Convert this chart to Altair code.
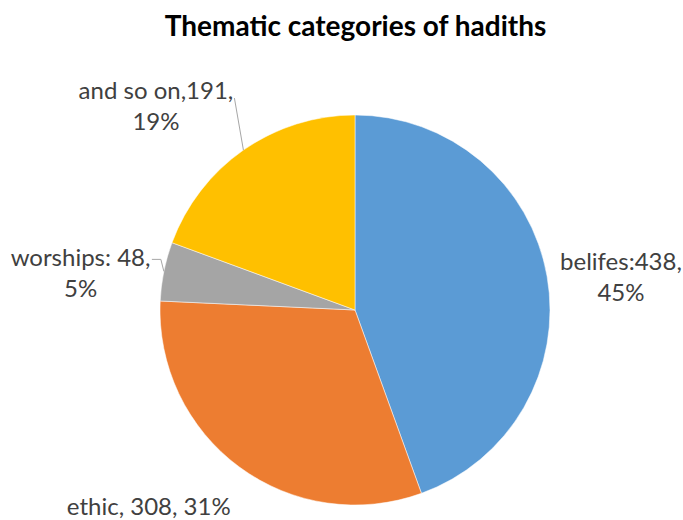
import altair as alt
import pandas as pd
import math

categories = ["belifes", "ethic", "worships", "and so on"]
values = [438, 308, 48, 191]
label_text = ["belifes:438,\n45%", "ethic, 308, 31%", "worships: 48,\n5%", "and so on,191,\n19%"]
colors = ["#5B9BD5", "#ED7D31", "#A5A5A5", "#FFC000"]

df = pd.DataFrame({"category": categories, "value": values, "label": label_text,
                   "idx": list(range(len(categories)))})
total = sum(values)

CX, CY, R = 355, 260, 195
FONT = "Lato"

theta_scale = alt.Scale(domain=[0, total], range=[0, 2 * math.pi])

base = alt.Chart(df).transform_window(
    cum="sum(value)", sort=[{"field": "idx"}], frame=[None, 0]
).transform_calculate(
    mid="datum.cum - datum.value / 2",
    ang=f"(datum.cum - datum.value / 2) / {total} * 2 * PI",
).transform_calculate(
    ex=f"{CX} + {R} * sin(datum.ang)",
    ey=f"{CY} - {R} * cos(datum.ang)",
)

pie = alt.Chart(df).mark_arc(outerRadius=R, stroke="white", strokeWidth=0.5).encode(
    theta=alt.Theta("value:Q", stack=True, scale=theta_scale),
    order=alt.Order("idx:Q"),
    color=alt.Color("category:N", scale=alt.Scale(domain=categories, range=colors), legend=None),
    x=alt.value(CX),
    y=alt.value(CY),
)

def label_layer(cat, radius, dx=0, dy=0):
    return base.transform_filter(f"datum.category == '{cat}'").mark_text(
        radius=radius, dx=dx, dy=dy, font=FONT, fontSize=24, color="#404040",
        lineBreak="\n", lineHeight=31, align="center", baseline="middle",
    ).encode(
        theta=alt.Theta("mid:Q", scale=theta_scale),
        text="label:N",
        x=alt.value(CX),
        y=alt.value(CY),
    )

labels = (label_layer("belifes", 270, 0, 0)
          + label_layer("ethic", 250, -58, -3)
          + label_layer("worships", 280, 0, 4)
          + label_layer("and so on", 250, -56, -13))

def leader(cat, x1, y1, x2, y2):
    return base.transform_filter(f"datum.category == '{cat}'").transform_calculate(
        lx1=x1, ly1=y1, lx2=x2, ly2=y2
    ).mark_rule(color="#A6A6A6", strokeWidth=1).encode(
        x=alt.X("lx1:Q", scale=None, axis=None),
        y=alt.Y("ly1:Q", scale=None, axis=None),
        x2="lx2:Q",
        y2="ly2:Q",
    )

leaders = (leader("and so on", "datum.ex", "datum.ey", "datum.ex - 9", "datum.ey - 52")
           + leader("worships", "datum.ex", "datum.ey", "datum.ex - 3", "datum.ey - 12")
           + leader("worships", "datum.ex - 3", "datum.ey - 12", "datum.ex - 12", "datum.ey - 12"))

chart = alt.layer(pie, leaders, labels).properties(
    width=683, height=470,
    padding={"left": 0, "right": 0, "top": 50, "bottom": 0},
    autosize=alt.AutoSizeParams(type="none"),
    title=alt.TitleParams("Thematic categories of hadiths", font=FONT, fontSize=28,
                          fontWeight="bold", color="#000000", anchor="middle",
                          offset=8, dx=14),
).configure_view(stroke=None)

chart.save("out.html", embed_options={"renderer": "svg", "actions": False})
